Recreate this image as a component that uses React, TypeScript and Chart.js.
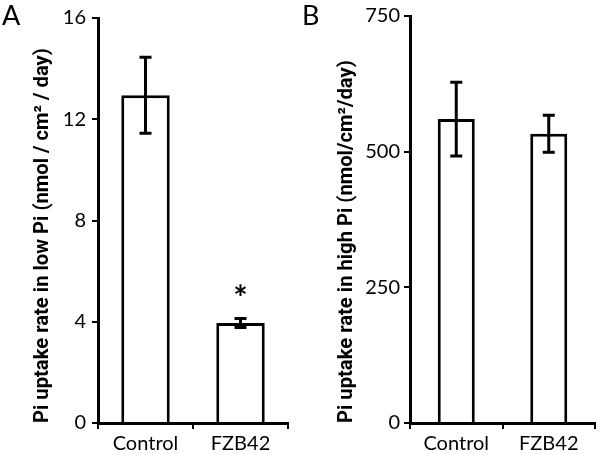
import React, { useEffect, useRef } from "react";
import { Chart, registerables } from "chart.js";
Chart.register(...registerables);

const categories = ["Control", "FZB42"];

const lowPiValues = [12.95, 3.95];
const lowPiErrors = [1.5, 0.18];
const lowPiMarks = ["", "*"];
const lowPiTicks = [0, 4, 8, 12, 16];
const lowPiTitle = "Pi uptake rate in low Pi (nmol / cm\u00B2 / day)";

const highPiValues = [560, 533];
const highPiErrors = [68, 34];
const highPiMarks = ["", ""];
const highPiTicks = [0, 250, 500, 750];
const highPiTitle = "Pi uptake rate in high Pi (nmol/cm\u00B2/day)";

const FONT = "Lato, 'Open Sans', sans-serif";
const TITLE_FONT = "Roboto, Lato, sans-serif";

const errorBarPlugin = {
  id: "errorBars",
  afterDatasetsDraw(chart: any, _args: any, opts: any) {
    const { ctx } = chart;
    const meta = chart.getDatasetMeta(0);
    const ys = chart.scales.y;
    const values = chart.data.datasets[0].data as number[];
    ctx.save();
    ctx.strokeStyle = "#000";
    ctx.fillStyle = "#000";
    ctx.lineWidth = 3;
    meta.data.forEach((bar: any, i: number) => {
      const v = values[i];
      const e = opts.errors[i];
      const yt = ys.getPixelForValue(v + e);
      const yb = ys.getPixelForValue(v - e);
      const x = bar.x;
      const cap = opts.cap;
      ctx.beginPath();
      ctx.moveTo(x, yt);
      ctx.lineTo(x, yb);
      ctx.moveTo(x - cap, yt);
      ctx.lineTo(x + cap, yt);
      ctx.moveTo(x - cap, yb);
      ctx.lineTo(x + cap, yb);
      ctx.stroke();
      const m = opts.marks[i];
      if (m) {
        ctx.font = `bold 34px ${FONT}`;
        ctx.textAlign = "center";
        ctx.textBaseline = "middle";
        ctx.fillText(m, x, yt - 19);
      }
    });
    ctx.restore();
  },
};

const panelLetterPlugin = {
  id: "panelLetter",
  afterDraw(chart: any, _args: any, opts: any) {
    const { ctx } = chart;
    ctx.save();
    ctx.fillStyle = "#000";
    ctx.font = `27px ${FONT}`;
    ctx.textAlign = "left";
    ctx.textBaseline = "top";
    ctx.fillText(opts.text, opts.x, opts.y);
    ctx.restore();
  },
};

function makeConfig(p: any): any {
  return {
    type: "bar",
    data: {
      labels: categories,
      datasets: [
        {
          data: p.values,
          backgroundColor: "#fff",
          borderColor: "#000",
          borderWidth: 3,
          barPercentage: p.barPct,
          categoryPercentage: 1,
        },
      ],
    },
    plugins: [errorBarPlugin, panelLetterPlugin],
    options: {
      responsive: false,
      animation: false,
      layout: { padding: { left: 0, top: 15, right: p.padRight, bottom: 0 } },
      plugins: {
        legend: { display: false },
        tooltip: { enabled: false },
        errorBars: { errors: p.errors, marks: p.marks, cap: 6 },
        panelLetter: { text: p.letter, x: 2, y: 3 },
      },
      scales: {
        x: {
          grid: {
            display: true,
            drawOnChartArea: false,
            drawTicks: true,
            tickLength: 6,
            color: "#000",
            lineWidth: 2,
          },
          border: { display: true, color: "#000", width: 3 },
          ticks: { color: "#000", font: { family: FONT, size: 20 }, padding: 3 },
          afterFit: (s: any) => {
            s.height = 31;
          },
        },
        y: {
          min: p.ticks[0],
          max: p.ticks[p.ticks.length - 1],
          afterBuildTicks: (s: any) => {
            s.ticks = p.ticks.map((v: number) => ({ value: v }));
          },
          grid: {
            display: true,
            drawOnChartArea: false,
            drawTicks: true,
            tickLength: 6,
            color: "#000",
            lineWidth: 2,
          },
          border: { display: true, color: "#000", width: 3 },
          ticks: { color: "#000", font: { family: FONT, size: 20 }, padding: p.tickPad },
          title: {
            display: true,
            text: p.title,
            align: "start",
            color: "#000",
            font: { family: TITLE_FONT, size: 20.2, weight: "bold" },
            padding: { top: p.titlePad, bottom: 0 },
          },
          afterFit: (s: any) => {
            s.width = p.axisWidth;
          },
        },
      },
    },
  };
}

function Panel(props: { config: any; left: number }) {
  const ref = useRef<HTMLCanvasElement | null>(null);
  useEffect(() => {
    if (!ref.current) return;
    const chart = new Chart(ref.current, props.config);
    return () => chart.destroy();
  }, []);
  return (
    <div style={{ position: "absolute", left: props.left, top: 0, width: 300, height: 454 }}>
      <canvas ref={ref} width={300} height={454} />
    </div>
  );
}

export default function App() {
  const cfgA = makeConfig({
    values: lowPiValues,
    errors: lowPiErrors,
    marks: lowPiMarks,
    ticks: lowPiTicks,
    title: lowPiTitle,
    letter: "A",
    axisWidth: 98,
    padRight: 12,
    titlePad: 31,
    tickPad: 6,
    barPct: 0.51,
  });
  const cfgB = makeConfig({
    values: highPiValues,
    errors: highPiErrors,
    marks: highPiMarks,
    ticks: highPiTicks,
    title: highPiTitle,
    letter: "B",
    axisWidth: 110,
    padRight: 5,
    titlePad: 35,
    tickPad: 4,
    barPct: 0.4,
  });
  return (
    <div style={{ position: "fixed", left: 0, top: 0, width: 600, height: 454, background: "#fff" }}>
      <Panel config={cfgA} left={0} />
      <Panel config={cfgB} left={300} />
    </div>
  );
}
